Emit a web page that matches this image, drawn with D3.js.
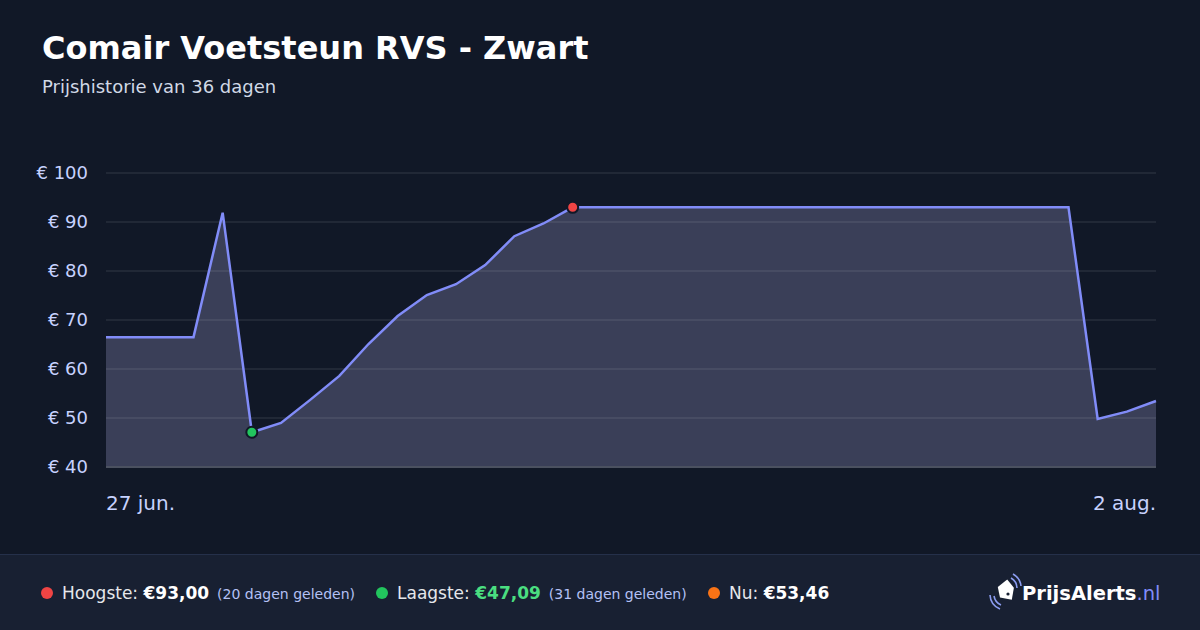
<!DOCTYPE html>
<html><head><meta charset="utf-8">
<script src="https://cdn.jsdelivr.net/npm/d3@7"></script>
<style>
html,body{margin:0;padding:0;background:#111827;}
svg{display:block;font-family:"DejaVu Sans",sans-serif;}
</style></head>
<body>
<svg id="c" width="1200" height="630"></svg>
<script>
const title = "Comair Voetsteun RVS - Zwart";
const subtitle = "Prijshistorie van 36 dagen";
const days = d3.range(0, 37);
const prices = [66.5,66.5,66.5,66.5,91.9,47.09,49.0,53.7,58.6,65.1,70.8,75.1,77.3,81.2,87.1,89.7,93.0,
  93,93,93,93,93,93,93,93,93,93,93,93,93,93,93,93,93,49.8,51.3,53.46];
const yTicks = [40,50,60,70,80,90,100];
const xLabels = ["27 jun.","2 aug."];
const maxIdx = 16, minIdx = 5;

const svg = d3.select("#c");
const W = 1200, H = 630;
const m = {l:106, r:1156, t:173, b:467};
const x = d3.scaleLinear().domain([0,36]).range([m.l,m.r]);
const y = d3.scaleLinear().domain([40,100]).range([m.b,m.t]);

svg.append("rect").attr("width",W).attr("height",H).attr("fill","#111827");

svg.append("text").attr("x",42).attr("y",59).attr("fill","#ffffff")
  .attr("font-size",32).attr("font-weight","bold").text(title);
svg.append("text").attr("x",42).attr("y",93).attr("fill","#d1d9e6")
  .attr("font-size",18).text(subtitle);

// area
const area = d3.area().x((d,i)=>x(days[i])).y0(y(40)).y1(d=>y(d));
svg.append("path").datum(prices).attr("d",area).attr("fill","#3a3f58");

// grid
svg.append("g").selectAll("line").data(yTicks.slice(1)).join("line")
  .attr("x1",m.l).attr("x2",m.r).attr("y1",d=>y(d)).attr("y2",d=>y(d))
  .attr("stroke","rgba(255,255,255,0.07)").attr("stroke-width",2);

// y labels
svg.append("g").selectAll("text").data(yTicks).join("text")
  .attr("x",88).attr("y",d=>y(d)+6).attr("text-anchor","end")
  .attr("fill","#c7d2fe").attr("font-size",18).text(d=>"€ "+d);

// baseline
svg.append("line").attr("x1",m.l).attr("x2",m.r).attr("y1",y(40)).attr("y2",y(40))
  .attr("stroke","#4b5160").attr("stroke-width",2);
// line
const line = d3.line().x((d,i)=>x(days[i])).y(d=>y(d));
svg.append("path").datum(prices).attr("d",line).attr("fill","none")
  .attr("stroke","#818cf8").attr("stroke-width",2.5).attr("stroke-linejoin","miter");

// markers
svg.append("circle").attr("cx",x(maxIdx)).attr("cy",y(prices[maxIdx])).attr("r",5.5)
  .attr("fill","#ef4444").attr("stroke","#111827").attr("stroke-width",2);
svg.append("circle").attr("cx",x(minIdx)).attr("cy",y(prices[minIdx])).attr("r",5.5)
  .attr("fill","#22c55e").attr("stroke","#111827").attr("stroke-width",2);

// x labels
svg.append("text").attr("x",m.l).attr("y",510).attr("fill","#c7d2fe").attr("font-size",20).text(xLabels[0]);
svg.append("text").attr("x",m.r).attr("y",510).attr("text-anchor","end").attr("fill","#c7d2fe").attr("font-size",20).text(xLabels[1]);

// footer
svg.append("rect").attr("x",0).attr("y",554).attr("width",W).attr("height",76).attr("fill","#182032");
svg.append("line").attr("x1",0).attr("x2",W).attr("y1",554.5).attr("y2",554.5).attr("stroke","#25304a").attr("stroke-width",1);

const fy = 599;
function stat(xp, color, label, value, valColor, note){
  svg.append("circle").attr("cx",xp+5).attr("cy",fy-6).attr("r",6).attr("fill",color);
  const t = svg.append("text").attr("x",xp+20).attr("y",fy).attr("font-size",17).attr("fill","#e5e7eb");
  t.append("tspan").text(label+" ");
  t.append("tspan").attr("font-weight","bold").attr("fill",valColor).text(value);
  if(note){ t.append("tspan").attr("font-size",14).attr("fill","#b4c0f5").attr("dx",8).text(note); }
}
stat(42,"#ef4444","Hoogste:","€93,00","#ffffff","(20 dagen geleden)");
stat(377,"#22c55e","Laagste:","€47,09","#4ade80","(31 dagen geleden)");
stat(709,"#f97316","Nu:","€53,46","#ffffff",null);

// logo
const lg = svg.append("g").attr("transform","translate(1003,592)");
lg.append("path").attr("d","M-6,-4 L2,-13 L10,-6 L10,6 L-2,6 Z").attr("fill","#ffffff")
  .attr("transform","rotate(10)");
lg.append("circle").attr("cx",5).attr("cy",2).attr("r",1.6).attr("fill","#182032");
lg.append("path").attr("d","M-9,4 A12,12 0 0 0 -2,13").attr("fill","none").attr("stroke","#8b9cf0").attr("stroke-width",1.6);
lg.append("path").attr("d","M-13,3 A16,16 0 0 0 -3,17").attr("fill","none").attr("stroke","#8b9cf0").attr("stroke-width",1.6);
lg.append("path").attr("d","M8,-14 A12,12 0 0 1 14,-4").attr("fill","none").attr("stroke","#8b9cf0").attr("stroke-width",1.6);
lg.append("path").attr("d","M10,-18 A16,16 0 0 1 18,-6").attr("fill","none").attr("stroke","#8b9cf0").attr("stroke-width",1.6);
const lt = svg.append("text").attr("x",1022).attr("y",600).attr("font-size",19.5);
lt.append("tspan").attr("font-weight","bold").attr("fill","#ffffff").text("PrijsAlerts");
lt.append("tspan").attr("fill","#818cf8").text(".nl");
</script>
</body></html>
